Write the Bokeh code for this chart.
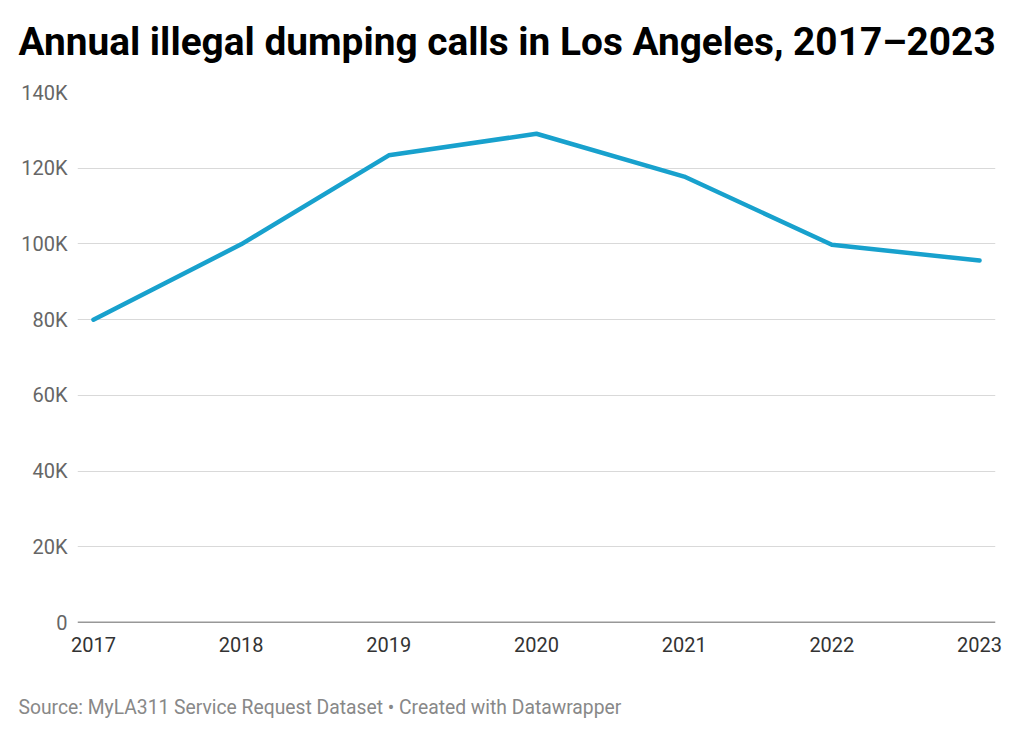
from bokeh.plotting import figure
from bokeh.models import Title, Span, FixedTicker, Range1d
from bokeh.embed import file_html
from bokeh.resources import INLINE

years = [2017, 2018, 2019, 2020, 2021, 2022, 2023]
calls = [80000, 99900, 123400, 129100, 117800, 99800, 95600]
y_ticks = [0, 20000, 40000, 60000, 80000, 100000, 120000, 140000]
y_tick_labels = ["0", "20K", "40K", "60K", "80K", "100K", "120K", "140K"]
x_tick_labels = [str(y) for y in years]

title_text = "Annual illegal dumping calls in Los Angeles, 2017\u20132023"
source_text = "Source: MyLA311 Service Request Dataset \u2022 Created with Datawrapper"

p = figure(width=1016, height=725, output_backend="svg", toolbar_location=None,
           x_range=Range1d(2016.892, 2023.108), y_range=Range1d(0, 140000),
           min_border_left=77, min_border_right=21, min_border_top=92, min_border_bottom=103)
p.outline_line_color = None
p.background_fill_color = "white"
p.border_fill_color = "white"

# spacer between frame and title (pushes the title upward)
p.add_layout(Title(text=" ", text_font_size="1px", standoff=26), "above")
p.title = Title(text=title_text, text_font="Roboto", text_font_size="38.8px",
                text_font_style="bold", text_color="#000000", align="left", offset=-59, standoff=0)

# spacer between x axis and footer (pushes the footer downward)
p.add_layout(Title(text=" ", text_font_size="1px", standoff=36), "below")
p.add_layout(Title(text=source_text, text_font="Roboto", text_font_size="19.3px",
                   text_font_style="normal", text_color="#888888", align="left", offset=-59, standoff=0), "below")

# axes
p.yaxis.ticker = FixedTicker(ticks=y_ticks)
p.yaxis.major_label_overrides = {t: l for t, l in zip(y_ticks, y_tick_labels)}
p.yaxis.axis_line_color = None
p.yaxis.major_tick_line_color = None
p.yaxis.minor_tick_line_color = None
p.yaxis.major_tick_out = 0
p.yaxis.major_label_standoff = 10
p.yaxis.major_label_text_font = "Roboto"
p.yaxis.major_label_text_font_size = "20px"
p.yaxis.major_label_text_color = "#666666"

p.xaxis.ticker = FixedTicker(ticks=years)
p.xaxis.major_label_overrides = {y: l for y, l in zip(years, x_tick_labels)}
p.xaxis.axis_line_color = None
p.xaxis.major_tick_line_color = None
p.xaxis.minor_tick_line_color = None
p.xaxis.major_tick_out = 0
p.xaxis.major_label_standoff = 14
p.xaxis.major_label_text_font = "Roboto"
p.xaxis.major_label_text_font_size = "20px"
p.xaxis.major_label_text_color = "#333333"

p.xgrid.grid_line_color = None
p.ygrid.grid_line_color = "#d9d9d9"
p.ygrid.grid_line_width = 1

p.add_layout(Span(location=0, dimension="width", line_color="#333333", line_width=1.5))

p.line(years, calls, line_color="#18a1cd", line_width=4.5, line_cap="round", line_join="round")

open("out.html", "w").write(file_html(p, INLINE))
